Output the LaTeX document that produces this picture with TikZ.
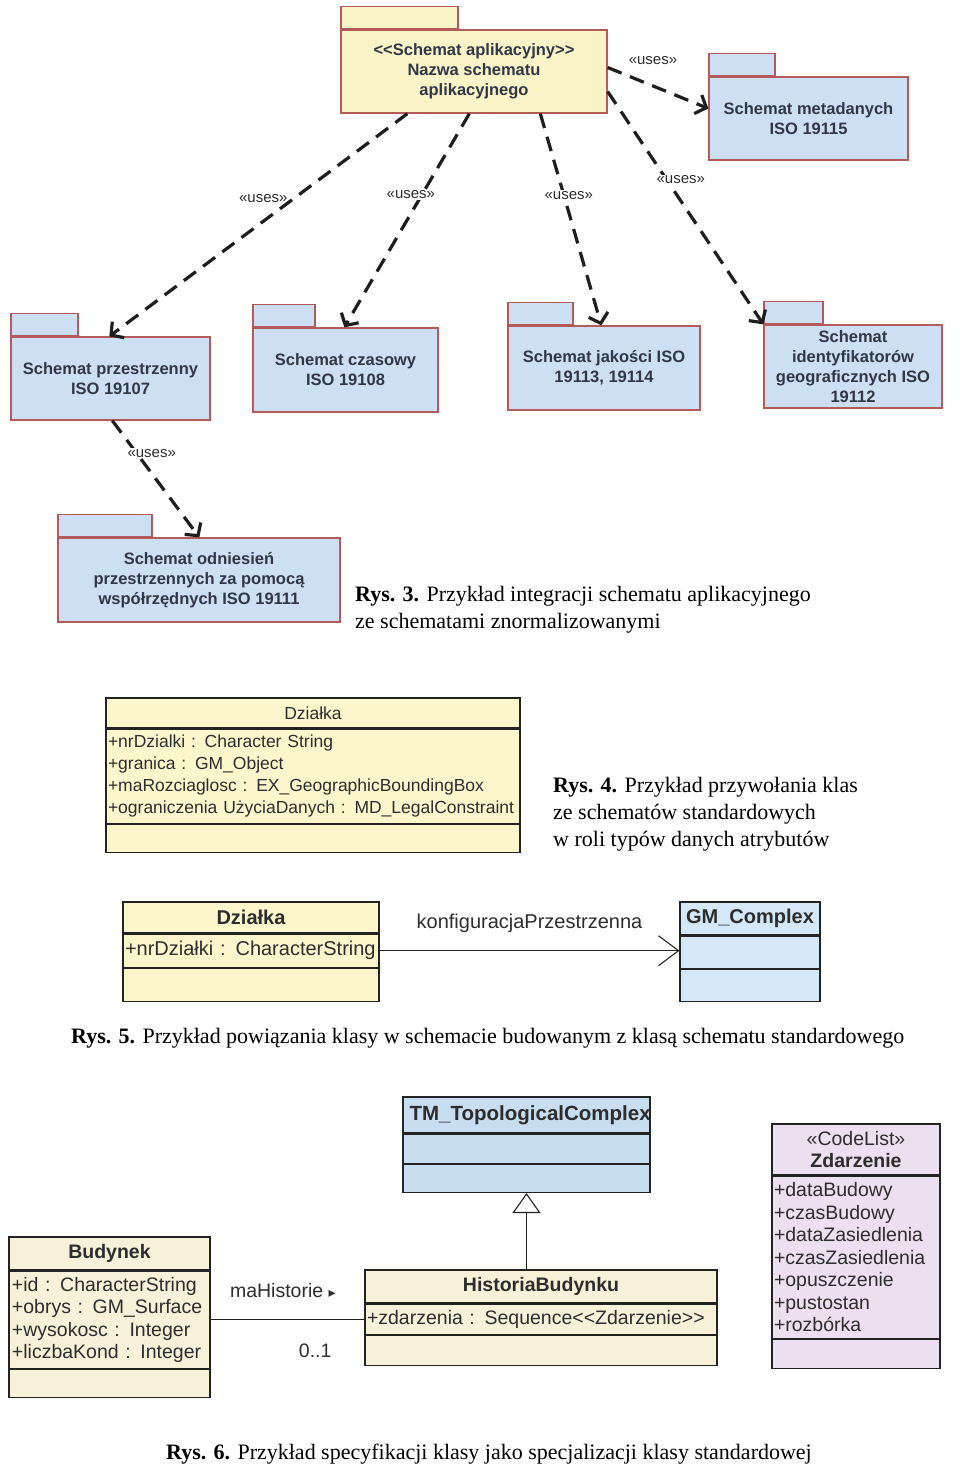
\documentclass[tikz,border=0pt]{standalone}
\usepackage{fontspec}
\setmainfont{Liberation Serif}
\setsansfont{Liberation Sans}
\newfontfamily\symfont{DejaVu Sans}
\usetikzlibrary{arrows.meta}
\usetikzlibrary{positioning}
\definecolor{pkgYellow}{RGB}{250,243,200}
\definecolor{pkgBlue}{RGB}{205,223,242}
\definecolor{pkgLine}{RGB}{180,90,90}
\definecolor{pkgText}{RGB}{50,55,70}
\definecolor{classYellow}{RGB}{253,246,204}
\definecolor{classBlue}{RGB}{212,232,247}
\definecolor{tmBlue}{RGB}{200,221,240}
\definecolor{classBeige}{RGB}{246,241,216}
\definecolor{classViolet}{RGB}{236,223,239}
\definecolor{umlLine}{RGB}{35,35,35}
\definecolor{umlText}{RGB}{45,45,45}
\definecolor{dashInk}{RGB}{30,30,30}
\newcommand*{\pkgfont}{\sffamily\bfseries\fontsize{16.5}{20}\selectfont}
\newcommand*{\usesfont}{\sffamily\fontsize{15}{18}\selectfont}
\newcommand*{\dzfont}{\sffamily\fontsize{17.5}{22}\selectfont}
\newcommand*{\assocfont}{\sffamily\fontsize{20}{24}\selectfont}
\newcommand*{\umlfont}{\sffamily\fontsize{19.5}{22.5}\selectfont}
\newcommand*{\capfont}{\rmfamily\fontsize{22}{27}\selectfont}
\tikzstyle{usesArrow}=[draw=dashInk,line width=3.2pt,dash pattern=on 15pt off 9pt,-{Straight Barb[length=9pt,width=20pt]}]
\tikzstyle{usesLabel}=[font=\usesfont,text=umlText,inner sep=1pt]
\tikzstyle{navArrow}=[draw=umlLine,line width=1.1pt,-{Straight Barb[length=20pt,width=30pt]}]
\tikzstyle{genArrow}=[draw=umlLine,line width=1.1pt,-{Triangle[length=20pt,width=28pt,fill=white]}]
\tikzstyle{assoc}=[draw=umlLine,line width=1.1pt]
\tikzstyle{capNote}=[align=left,inner sep=0pt,font=\capfont,anchor=north west]
\tikzset{
  pkg/.style n args={4}{%
    rectangle,
    draw=pkgLine, line width=1.3pt,
    fill=#1,
    minimum width=#2, minimum height=#3,
    inner sep=0pt, align=center,
    text=pkgText, font=\pkgfont,
    append after command={\pgfextra{\let\mainnode=\tikzlastnode}
      node[rectangle, draw=pkgLine, line width=1.3pt, fill=#1, minimum width=#4,
        minimum height=22pt, inner sep=0pt, anchor=south west] at (\mainnode.north west) {}%
    },
  },
  umlBox/.style 2 args={rectangle, draw=umlLine, line width=1.2pt, fill=#1,
    minimum width=#2, inner sep=0pt, text=umlText},
  umlList/.style={align=left, text width=#1, inner xsep=2pt}
}

\begin{document}
\begin{tikzpicture}[x=1pt,y=-1pt]
  \path[fill=white,use as bounding box] (0,0) rectangle (960,1468);

  % Rys. 3
  \node [pkg={pkgYellow}{266pt}{83pt}{117pt}] (mainPkg) at (474,71.5)
    {<{}<Schemat aplikacyjny>{}>\\Nazwa schematu\\aplikacyjnego};
  \node [pkg={pkgBlue}{199pt}{83pt}{66pt}] (metaPkg) at (808.5,118.5) {Schemat metadanych\\ISO 19115};
  \node [pkg={pkgBlue}{199pt}{83pt}{67pt}] (spatialPkg) at (110.5,378.5) {Schemat przestrzenny\\ISO 19107};
  \node [pkg={pkgBlue}{185pt}{84pt}{62pt}] (temporalPkg) at (345.5,370) {Schemat czasowy\\ISO 19108};
  \node [pkg={pkgBlue}{192pt}{84pt}{65pt}] (qualityPkg) at (604,368) {Schemat jakości ISO\\19113, 19114};
  \node [pkg={pkgBlue}{178pt}{83pt}{59pt}] (identPkg) at (853,366.5) {Schemat\\identyfikatorów\\geograficznych ISO\\19112};
  \node [pkg={pkgBlue}{282pt}{84pt}{94pt}] (refsysPkg) at (199,580) {Schemat odniesień\\przestrzennych za pomocą\\współrzędnych ISO 19111};

  \draw [usesArrow] ([yshift=4pt]mainPkg.east) -- node [usesLabel,pos=.45,above=19pt] {«uses»} ([yshift=10pt]metaPkg.west);
  \draw [usesArrow] ([xshift=67pt]mainPkg.south west) -- node [usesLabel,pos=.38,left=4pt] {«uses»} ([xshift=99pt]spatialPkg.north west);
  \draw [usesArrow] ([xshift=129pt]mainPkg.south west) -- node [usesLabel,pos=.38,xshift=-11pt,fill=white] {«uses»} ([xshift=92pt]temporalPkg.north west);
  \draw [usesArrow] ([xshift=200pt]mainPkg.south west) -- node [usesLabel,pos=.385,xshift=5pt,fill=white] {«uses»} ([xshift=94pt]qualityPkg.north west);
  \draw [usesArrow] ([yshift=-20pt]mainPkg.east) -- node [usesLabel,pos=.38,xshift=14pt,fill=white] {«uses»} (identPkg.north west);
  \draw [usesArrow] ([xshift=102pt]spatialPkg.south west) -- node [usesLabel,pos=.28,xshift=15pt,fill=white] {«uses»} ([xshift=142pt]refsysPkg.north west);

  \node [capNote] (capThree) at (355,586) {\textbf{Rys. 3.} Przykład integracji schematu aplikacyjnego\\ze schematami znormalizowanymi};

  % Rys. 4
  \node [umlBox={classYellow}{414pt}, minimum height=30pt, font=\dzfont] (dzialkaName) at (313,713) {Działka};
  \node [umlBox={classYellow}{414pt}, minimum height=94pt, font=\dzfont, umlList=410pt, below=0pt of dzialkaName] (dzialkaAttr)
    {+nrDzialki : Character String\\+granica : GM\_Object\\+maRozciaglosc : EX\_GeographicBoundingBox\\+ograniczenia UżyciaDanych : MD\_LegalConstraint};
  \node [umlBox={classYellow}{414pt}, minimum height=28pt, below=0pt of dzialkaAttr] (dzialkaOps) {};

  \node [capNote] (capFour) at (553,777) {\textbf{Rys. 4.} Przykład przywołania klas\\ze schematów standardowych\\w roli typów danych atrybutów};

  % Rys. 5
  \node [umlBox={classYellow}{256pt}, minimum height=31pt, font=\assocfont\bfseries] (plotName) at (251,917.5) {Działka};
  \node [umlBox={classYellow}{256pt}, minimum height=33pt, font=\assocfont, umlList=252pt, below=0pt of plotName] (plotAttr) {+nrDziałki : CharacterString};
  \node [umlBox={classYellow}{256pt}, minimum height=33pt, below=0pt of plotAttr] (plotOps) {};
  \node [umlBox={classBlue}{140pt}, minimum height=33pt, font=\assocfont\bfseries] (gmName) at (750,918.5) {GM\_Complex};
  \node [umlBox={classBlue}{140pt}, minimum height=32pt, below=0pt of gmName] (gmAttr) {};
  \node [umlBox={classBlue}{140pt}, minimum height=32pt, below=0pt of gmAttr] (gmOps) {};
  \draw [navArrow] (plotAttr.east) -- node [midway,above=18pt,inner sep=0pt,font=\assocfont,text=umlText] {konfiguracjaPrzestrzenna} (plotAttr.east -| gmAttr.west);

  \node [capNote] (capFive) at (71,1028) {\textbf{Rys. 5.} Przykład powiązania klasy w schemacie budowanym z klasą schematu standardowego};

  % Rys. 6
  \node [umlBox={tmBlue}{247pt}, minimum height=36pt] (tmName) at (526.5,1115) {};
  \begin{scope}
    \clip (tmName.south west) rectangle (tmName.north east);
    \node [anchor=west, inner sep=0pt, text=umlText, font=\sffamily\bfseries\fontsize{20.5}{24}\selectfont] (tmTitle)
      at ([xshift=7pt]tmName.west) {TM\_TopologicalComplex};
  \end{scope}
  \node [umlBox={tmBlue}{247pt}, minimum height=29pt, below=0pt of tmName] (tmAttr) {};
  \node [umlBox={tmBlue}{247pt}, minimum height=28pt, below=0pt of tmAttr] (tmOps) {};

  \node [umlBox={classBeige}{352pt}, minimum height=33pt, font=\umlfont\bfseries] (historyName) at (541,1286.5) {HistoriaBudynku};
  \node [umlBox={classBeige}{352pt}, minimum height=30pt, font=\umlfont, umlList=348pt, below=0pt of historyName] (historyAttr)
    {+zdarzenia : Sequence<{}<Zdarzenie>{}>};
  \node [umlBox={classBeige}{352pt}, minimum height=30pt, below=0pt of historyAttr] (historyOps) {};

  \node [umlBox={classBeige}{201pt}, minimum height=33pt, font=\umlfont\bfseries] (buildingName) at (109.5,1253.5) {Budynek};
  \node [umlBox={classBeige}{201pt}, minimum height=97pt, font=\umlfont, umlList=195pt, inner xsep=3pt, below=0pt of buildingName] (buildingAttr)
    {+id : CharacterString\\+obrys : GM\_Surface\\+wysokosc : Integer\\+liczbaKond : Integer};
  \node [umlBox={classBeige}{201pt}, minimum height=28pt, below=0pt of buildingAttr] (buildingOps) {};

  \node [umlBox={classViolet}{168pt}, minimum height=51pt, font=\umlfont, align=center] (eventName) at (856,1149.5)
    {«CodeList»\\\textbf{Zdarzenie}};
  \node [umlBox={classViolet}{168pt}, minimum height=162pt, font=\umlfont, umlList=164pt, below=0pt of eventName] (eventAttr)
    {+dataBudowy\\+czasBudowy\\+dataZasiedlenia\\+czasZasiedlenia\\+opuszczenie\\+pustostan\\+rozbórka};
  \node [umlBox={classViolet}{168pt}, minimum height=29pt, below=0pt of eventAttr] (eventOps) {};

  \draw [genArrow] (tmOps.south |- historyName.north) -- (tmOps.south);
  \draw [assoc] (buildingAttr.east) --
    node [pos=.47,above=21pt,inner sep=0pt,font=\umlfont,text=umlText] {maHistorie {\symfont\fontsize{14}{16}\selectfont ▸}}
    node [pos=.68,below=24pt,inner sep=0pt,font=\umlfont,text=umlText] {0..1} (buildingAttr.east -| historyAttr.west);

  \node [capNote] (capSix) at (166,1444) {\textbf{Rys. 6.} Przykład specyfikacji klasy jako specjalizacji klasy standardowej};
\end{tikzpicture}
\end{document}
